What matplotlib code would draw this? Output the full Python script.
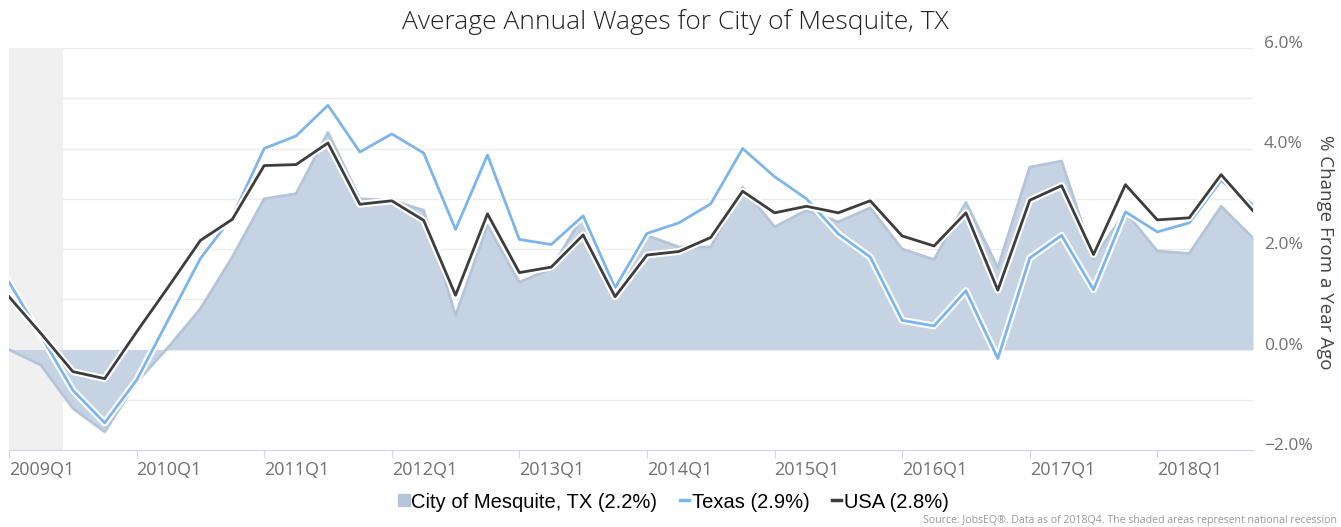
import numpy as np
import matplotlib.pyplot as plt
import matplotlib.patheffects as pe
from matplotlib.transforms import ScaledTranslation

# quarterly % change from a year ago, 2009Q1 .. 2018Q4
quarters = [f"{y}Q{q}" for y in range(2009, 2019) for q in range(1, 5)]

mesquite = [0.0, -0.31, -1.17, -1.64, -0.65, 0.05, 0.81, 1.84, 3.0, 3.1,
            4.32, 3.0, 2.97, 2.77, 0.68, 2.47, 1.34, 1.61, 2.67, 1.22,
            2.27, 2.04, 2.04, 3.23, 2.44, 2.77, 2.54, 2.82, 2.0, 1.79,
            2.93, 1.63, 3.63, 3.75, 1.81, 2.74, 1.96, 1.91, 2.85, 2.22]
texas = [1.34, 0.28, -0.81, -1.46, -0.61, 0.6, 1.81, 2.64, 4.0, 4.25,
         4.86, 3.93, 4.29, 3.91, 2.39, 3.87, 2.19, 2.09, 2.66, 1.23,
         2.31, 2.52, 2.9, 4.0, 3.44, 3.0, 2.3, 1.84, 0.58, 0.47,
         1.17, -0.18, 1.82, 2.27, 1.19, 2.74, 2.34, 2.52, 3.36, 2.88]
usa = [1.05, 0.32, -0.44, -0.58, 0.35, 1.25, 2.17, 2.59, 3.66, 3.68,
       4.11, 2.89, 2.96, 2.57, 1.08, 2.7, 1.53, 1.64, 2.28, 1.05,
       1.88, 1.95, 2.23, 3.15, 2.72, 2.85, 2.72, 2.96, 2.26, 2.06,
       2.72, 1.18, 2.97, 3.26, 1.89, 3.28, 2.58, 2.62, 3.48, 2.76]

recession = (0, 1.7)  # shaded national recession, in quarter index

x = np.arange(len(quarters))

fig = plt.figure(figsize=(13.41, 5.27), dpi=100)
ax = fig.add_axes([9 / 1341, 1 - 450 / 527, 1244 / 1341, 402 / 527])

ax.axvspan(*recession, color="#f0f0f0", zorder=1, lw=0)
ax.fill_between(x, 0, mesquite, color="#c5d3e3", lw=0, zorder=2)
ax.plot(x, mesquite, color="#b4c4d9", lw=2, zorder=2.5)

halo = [pe.Stroke(linewidth=5, foreground="white"), pe.Normal()]
ax.plot(x, texas, color="#7cb5ec", lw=2, zorder=3, path_effects=halo)
ax.plot(x, usa, color="#3d3d3d", lw=2, zorder=4, path_effects=halo)

ax.set_xlim(0, len(quarters) - 1)
ax.set_ylim(-2, 6)

# grid every 1%, labels every 2%
for v in range(-1, 7):
    ax.axhline(v, color="#ebebeb", lw=1, zorder=0)

ax.yaxis.tick_right()
ax.set_yticks([-2, 0, 2, 4, 6])
ax.set_yticklabels(["\u22122.0%", "0.0%", "2.0%", "4.0%", "6.0%"])
ax.tick_params(axis="y", length=0, pad=8, labelsize=12.5, labelcolor="#707070")
for lab in ax.get_yticklabels():
    lab.set_fontfamily("Open Sans")
    lab.set_transform(lab.get_transform() + ScaledTranslation(0, 6 / 100, fig.dpi_scale_trans))

xt = list(range(0, len(quarters), 4))
ax.set_xticks(xt)
ax.set_xticklabels([quarters[i] for i in xt], ha="left")
ax.tick_params(axis="x", length=6, color="#ccd6eb", pad=2, labelsize=13,
               labelcolor="#707070")
for lab in ax.get_xticklabels():
    lab.set_fontfamily("Open Sans")

for s in ["top", "left", "right"]:
    ax.spines[s].set_visible(False)
ax.spines["bottom"].set_color("#ccd6eb")
ax.spines["bottom"].set_zorder(5)

fig.text(1325 / 1341, 1 - 252 / 527, "% Change From a Year Ago", rotation=-90,
         ha="center", va="center", fontsize=13.5, color="#444444", family="Open Sans")

fig.text(675 / 1341, 1 - 22 / 527, "Average Annual Wages for City of Mesquite, TX",
         ha="center", va="center", fontsize=19, color="#222222", family="Open Sans",
         fontweight="light")

# legend
handles = [
    plt.Line2D([], [], marker="s", ls="", markersize=9, color="#b4c4d9"),
    plt.Line2D([], [], color="#7cb5ec", lw=2.5),
    plt.Line2D([], [], color="#3d3d3d", lw=2.5),
]
labels = ["City of Mesquite, TX (2.2%)", "Texas (2.9%)", "USA (2.8%)"]
fig.legend(handles, labels, loc="center", bbox_to_anchor=(674 / 1341, 1 - 502 / 527),
           ncol=3, frameon=False, handlelength=0.45, handletextpad=0.15, columnspacing=1.1,
           prop={"family": "Liberation Sans", "size": 14.5})

fig.text(1337 / 1341, 1 - 520 / 527,
         "Source: JobsEQ\u00ae. Data as of 2018Q4. The shaded areas represent national recession",
         ha="right", va="center", fontsize=7.6, color="#999999", family="Open Sans")

fig.savefig("out.png", dpi=100)
